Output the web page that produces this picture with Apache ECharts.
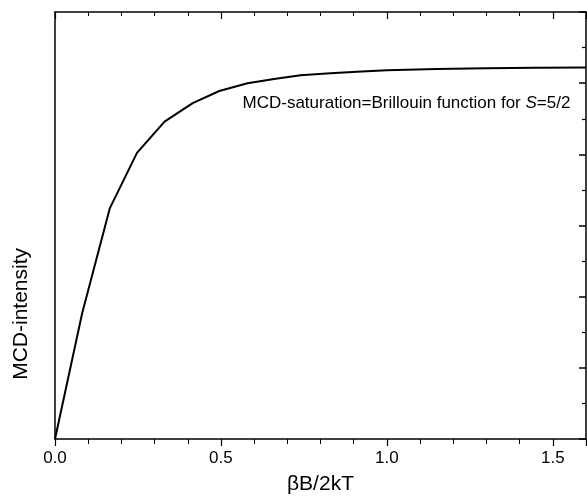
<!DOCTYPE html>
<html>
<head>
<meta charset="utf-8">
<script src="https://cdn.jsdelivr.net/npm/echarts@6/dist/echarts.min.js"></script>
<style>html,body{margin:0;padding:0;background:#fff}#c{width:587px;height:500px}</style>
</head>
<body>
<div id="c"></div>
<script>
// x values (βB/2kT)
var xValues = [0, 0.082, 0.165, 0.247, 0.33, 0.415, 0.495, 0.58, 0.66, 0.74, 0.83, 0.91, 1.0, 1.15, 1.3, 1.45, 1.6];
// MCD intensity (arbitrary units)
var yValues = [0, 1.77, 3.24, 4.02, 4.46, 4.72, 4.89, 5.0, 5.06, 5.11, 5.14, 5.16, 5.18, 5.2, 5.21, 5.215, 5.22];
var xTickLabels = ['0.0', '0.5', '1.0', '1.5'];
var xName = 'βB/2kT';
var yName = 'MCD-intensity';
var annotation = 'MCD-saturation=Brillouin function for ';

var font = '"Liberation Sans", Arial, sans-serif';
var data = xValues.map(function (x, i) { return [x, yValues[i]]; });

var chart = echarts.init(document.getElementById('c'), null, {renderer: 'canvas'});
chart.setOption({
  animation: false,
  backgroundColor: '#fff',
  grid: {left: 55, right: 1, top: 12, bottom: 57},
  xAxis: [{
    type: 'value', position: 'bottom', min: 0, max: 1.6, interval: 0.5,
    name: xName, nameLocation: 'middle', nameGap: 35,
    nameTextStyle: {fontFamily: font, fontSize: 21, color: '#000'},
    axisLine: {show: true, onZero: false, lineStyle: {color: '#000', width: 1.5}},
    axisTick: {show: true, inside: false, length: 7, lineStyle: {color: '#000', width: 1.2}},
    minorTick: {show: true, splitNumber: 5, length: 5, lineStyle: {color: '#000', width: 1}},
    splitLine: {show: false},
    axisLabel: {
      show: true, margin: 11, fontFamily: font, fontSize: 17, color: '#000', showMaxLabel: false,
      formatter: function (v) {
        var idx = Math.round(v / 0.5);
        return Math.abs(v - idx * 0.5) < 1e-6 && xTickLabels[idx] ? xTickLabels[idx] : '';
      }
    }
  }, {
    type: 'value', position: 'top', min: 0, max: 1.6, interval: 0.5,
    axisLine: {show: true, onZero: false, lineStyle: {color: '#000', width: 1.5}},
    axisTick: {show: true, inside: true, length: 7, lineStyle: {color: '#000', width: 1.2}},
    minorTick: {show: true, splitNumber: 5, length: 4, lineStyle: {color: '#000', width: 1}},
    splitLine: {show: false},
    axisLabel: {show: false}
  }],
  yAxis: [{
    type: 'value', position: 'left', min: 0, max: 6, interval: 1,
    axisLine: {show: true, onZero: false, lineStyle: {color: '#000', width: 1.5}},
    axisTick: {show: false},
    splitLine: {show: false},
    axisLabel: {show: false}
  }, {
    type: 'value', position: 'right', min: 0, max: 6, interval: 1,
    axisLine: {show: true, onZero: false, lineStyle: {color: '#000', width: 1.5}},
    axisTick: {show: true, inside: true, length: 7, lineStyle: {color: '#000', width: 1.5}},
    minorTick: {show: true, splitNumber: 2, length: 4, lineStyle: {color: '#000', width: 1.2}},
    splitLine: {show: false},
    axisLabel: {show: false}
  }],
  graphic: [{
    type: 'text', left: 11, top: 248, rotation: Math.PI / 2, originX: 0, originY: 0,
    style: {text: yName, fontFamily: font, fontSize: 21, fill: '#000', textAlign: 'center', textVerticalAlign: 'middle', x: 0, y: 0}
  }],
  series: [{
    type: 'line', data: data, xAxisIndex: 0, yAxisIndex: 0,
    showSymbol: false, symbol: 'none', smooth: false,
    lineStyle: {color: '#000', width: 2},
    markPoint: {
      symbol: 'rect', symbolSize: 0,
      data: [{
        coord: [0.565, 4.72],
        label: {
          show: true, position: 'right', distance: 0,
          formatter: '{a|' + annotation + '}{i|S}{a|=5/2}',
          rich: {
            a: {fontFamily: font, fontSize: 17, color: '#000'},
            i: {fontFamily: font, fontSize: 17, fontStyle: 'italic', color: '#000'}
          }
        }
      }]
    }
  }]
});
</script>
</body>
</html>
